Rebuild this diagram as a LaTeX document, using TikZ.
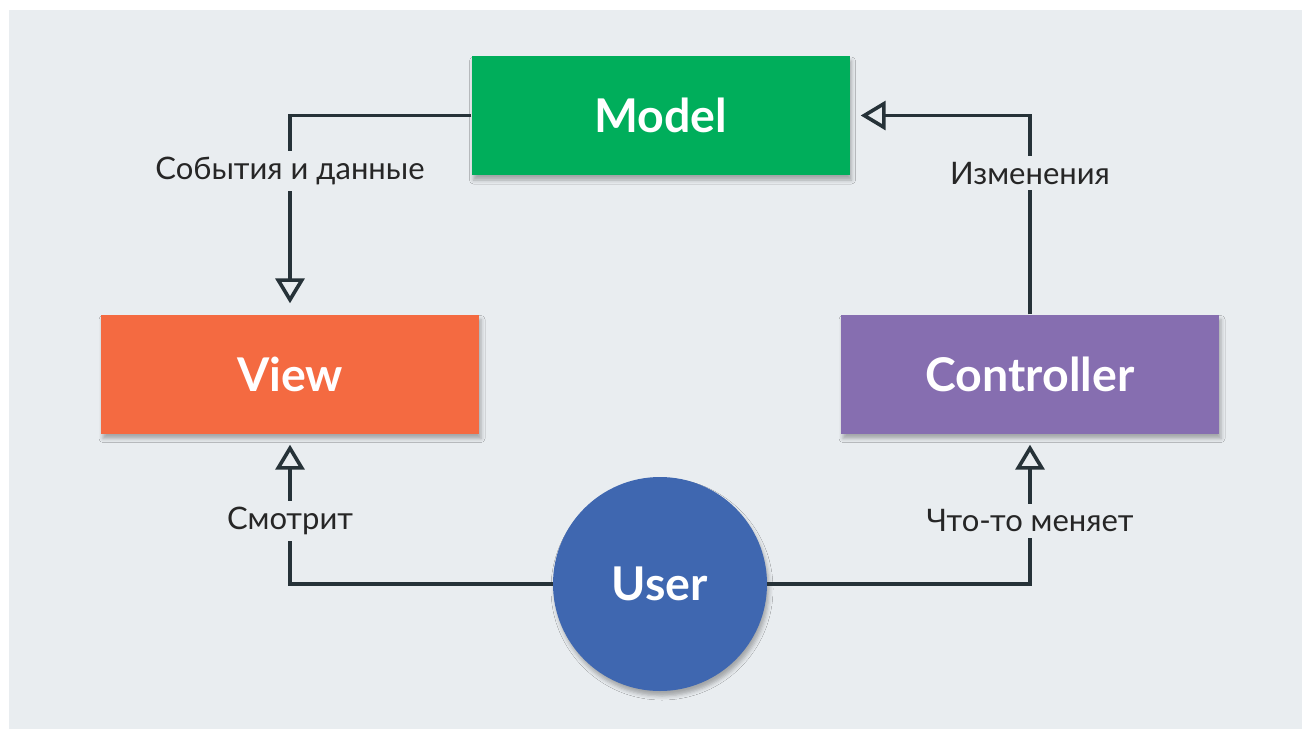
\documentclass[tikz,border=0pt]{standalone}
\usepackage{fontspec}
\setmainfont{Lato}
\usetikzlibrary{arrows.meta,shadows.blur}
\definecolor{bg}{HTML}{E9EDF0}
\definecolor{mgreen}{HTML}{00AE5B}
\definecolor{vorange}{HTML}{F46A41}
\definecolor{cpurple}{HTML}{866EB0}
\definecolor{ublue}{HTML}{3F67B0}
\definecolor{lnc}{HTML}{263238}
\tikzset{
  x=1pt,y=-1pt,
  shad/.style={blur shadow={shadow xshift=2pt, shadow yshift=-5pt, shadow blur radius=4pt, shadow opacity=30}},
  box/.style={rectangle, minimum width=378pt, minimum height=119pt, inner sep=0pt,
    text=white, font=\fontsize{46.5}{52}\selectfont\bfseries, shad},
  conn/.style={draw=lnc, line width=3.6pt, -{Triangle[open, length=25pt, width=29pt, fill=bg]}, shorten >=11pt},
  lbl/.style={fill=bg, inner sep=6pt, text=black!85, font=\fontsize{31}{36}\selectfont}
}
\begin{document}
\begin{tikzpicture}
\useasboundingbox (0,0) rectangle (1302,729);
\fill[white] (0,0) rectangle (1302,729);
\fill[bg] (9,10) rectangle (1302,729);
\node[box, fill=mgreen] (model) at (660.5,115.5) {Model};
\node[box, fill=vorange] (view) at (290,374) {View};
\node[box, fill=cpurple] (ctrl) at (1030,374) {Controller};
\node[circle, fill=ublue, minimum size=214pt, inner sep=0pt, text=white,
  font=\fontsize{46.5}{52}\selectfont\bfseries, shad] (user) at (660,584) {User};
\coordinate (c1) at (view.north |- model.west);
\coordinate (c2) at (ctrl.north |- model.east);
\coordinate (c3) at (view.south |- user.west);
\coordinate (c4) at (ctrl.south |- user.east);
\draw[conn] (model.west) -- (c1) -- node[lbl, pos=0.28] {События и данные} (view.north);
\draw[conn] (ctrl.north) -- node[lbl, pos=0.71] {Изменения} (c2) -- (model.east);
\draw[conn] (user.west) -- (c3) -- node[lbl, pos=0.42] {Смотрит} (view.south);
\draw[conn] (user.east) -- (c4) -- node[lbl, pos=0.42] {Что-то меняет} (ctrl.south);
\end{tikzpicture}
\end{document}
